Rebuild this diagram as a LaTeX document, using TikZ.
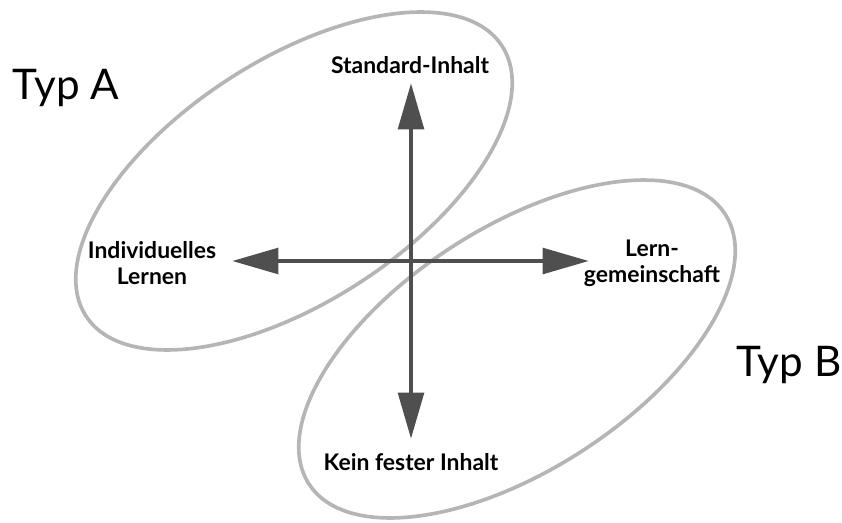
\documentclass[tikz,border=0pt]{standalone}
\usepackage{fontspec}
\setmainfont{Lato}
\usetikzlibrary{arrows.meta,positioning}
\definecolor{blobgray}{HTML}{B5B5B5}
\definecolor{axisgray}{HTML}{4F4F4F}

\begin{document}
\begin{tikzpicture}[x=0.025cm,y=0.025cm,>={Triangle[length=33pt,width=18pt]},
  blob/.style={draw=blobgray,line width=2.6pt},
  axis/.style={<->,draw=axisgray,line width=3.5pt},
  lbl/.style={font=\bfseries\fontsize{16.3}{18.5}\selectfont,align=center,inner sep=0pt},
  typ/.style={font=\fontsize{30}{34}\selectfont,inner sep=0pt}]
\useasboundingbox (0,0) rectangle (842,522);
% the two types
\draw[blob,rotate around={33:(294,341)}] (294,341) ellipse [x radius=248,y radius=121];
\draw[blob,rotate around={33:(517,173)}] (517,173) ellipse [x radius=248,y radius=121];
% axes
\coordinate (mid) at (411,261);
\coordinate (atop) at (411,439);
\coordinate (abot) at (411,83);
\coordinate (aleft) at (232,261);
\coordinate (aright) at (589,261);
\draw[axis] (abot) -- (atop);
\draw[axis] (aleft) -- (aright);
% labels
\node[lbl] (std) at (410,457) {Standard-Inhalt};
\node[lbl] (kein) at (411,60) {Kein fester Inhalt};
\node[lbl] (indiv) at (152,259) {Individuelles\\Lernen};
\node[lbl] (gemein) at (652,259) {Lern-\\gemeinschaft};
\node[typ] (typa) at (66,434) {Typ A};
\node[typ] (typb) at (789,157) {Typ B};
\end{tikzpicture}
\end{document}
